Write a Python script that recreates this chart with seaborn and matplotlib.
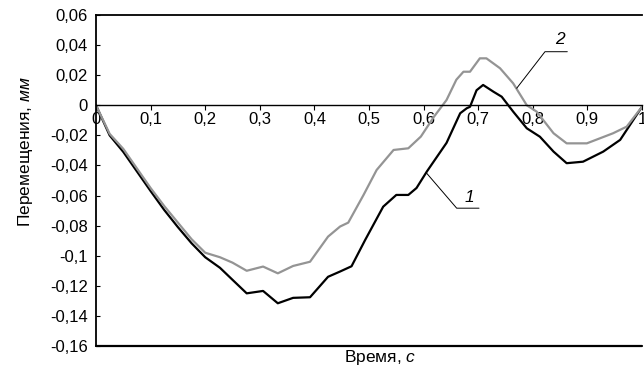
import matplotlib
matplotlib.use("Agg")
import matplotlib.pyplot as plt
import seaborn as sns
import pandas as pd
from matplotlib.ticker import FuncFormatter

# ---- data ----
t1 = [0, 0.025, 0.05, 0.075, 0.1, 0.125, 0.15, 0.175, 0.2, 0.227, 0.25, 0.276,
      0.306, 0.333, 0.361, 0.392, 0.425, 0.447, 0.468, 0.493, 0.526, 0.55, 0.572,
      0.587, 0.606, 0.642, 0.667, 0.679, 0.685, 0.697, 0.709, 0.728, 0.743, 0.764,
      0.789, 0.813, 0.838, 0.862, 0.892, 0.929, 0.96, 0.984, 1.0]
v1 = [0, -0.02, -0.031, -0.044, -0.057, -0.0696, -0.081, -0.0917, -0.101, -0.108,
      -0.116, -0.125, -0.1234, -0.1316, -0.128, -0.1276, -0.114, -0.1105, -0.107,
      -0.0895, -0.0674, -0.0596, -0.0596, -0.055, -0.044, -0.025, -0.0053, -0.002,
      -0.001, 0.010, 0.0135, 0.009, 0.0057, -0.0042, -0.0153, -0.0209, -0.0308,
      -0.0385, -0.0375, -0.0308, -0.023, -0.0098, -0.001]

t2 = [0, 0.025, 0.05, 0.075, 0.1, 0.125, 0.15, 0.175, 0.2, 0.227, 0.25, 0.276,
      0.306, 0.333, 0.361, 0.392, 0.425, 0.447, 0.462, 0.49, 0.514, 0.545, 0.572,
      0.595, 0.619, 0.642, 0.66, 0.673, 0.685, 0.703, 0.715, 0.74, 0.764, 0.789,
      0.807, 0.838, 0.862, 0.899, 0.947, 0.972, 1.0]
v2 = [0, -0.019, -0.029, -0.042, -0.055, -0.067, -0.078, -0.089, -0.098, -0.101,
      -0.1046, -0.110, -0.1072, -0.1117, -0.1068, -0.104, -0.0873, -0.0806, -0.078,
      -0.0596, -0.043, -0.0297, -0.0286, -0.0208, -0.0076, 0.0035, 0.017, 0.0223,
      0.0223, 0.0312, 0.0312, 0.0246, 0.0146, 0.0, -0.0042, -0.0186, -0.0253,
      -0.0253, -0.0186, -0.0142, -0.001]

x_ticks = [0, 0.1, 0.2, 0.3, 0.4, 0.5, 0.6, 0.7, 0.8, 0.9, 1.0]
y_ticks = [-0.16, -0.14, -0.12, -0.1, -0.08, -0.06, -0.04, -0.02, 0, 0.02, 0.04, 0.06]

curve_labels = ["1", "2"]
leader1 = ([0.6057, 0.6606, 0.7015], [-0.0452, -0.0684, -0.0684])
leader2 = ([0.7705, 0.8223, 0.8632], [0.0113, 0.0356, 0.0356])
label1_pos = (0.683, -0.0615)
label2_pos = (0.850, 0.0440)

df = pd.concat([
    pd.DataFrame({"t": t1, "v": v1, "curve": curve_labels[0]}),
    pd.DataFrame({"t": t2, "v": v2, "curve": curve_labels[1]}),
])

sns.set_theme(style="white")
plt.rcParams["font.family"] = ["Liberation Sans", "DejaVu Sans"]
plt.rcParams["mathtext.fontset"] = "custom"
plt.rcParams["mathtext.rm"] = "Liberation Sans"
plt.rcParams["mathtext.it"] = "Liberation Sans:italic"

fig = plt.figure(figsize=(6.44, 3.67), dpi=100)
ax = fig.add_axes([96 / 644, 1 - 346 / 367, 546 / 644, 331 / 367])

sns.lineplot(data=df, x="t", y="v", hue="curve", sort=False, estimator=None,
             palette={"1": "#000000", "2": "#949494"}, linewidth=1.6,
             legend=False, ax=ax)

ax.set_xlim(0, 1.0)
ax.set_ylim(-0.16, 0.06)

fmt = FuncFormatter(lambda v, p: ("%g" % round(v, 4)).replace(".", ","))
ax.set_xticks(x_ticks)
ax.set_yticks(y_ticks)
ax.xaxis.set_major_formatter(fmt)
ax.yaxis.set_major_formatter(fmt)

for s in ["left", "top", "bottom"]:
    ax.spines[s].set_visible(True)
    ax.spines[s].set_color("black")
    ax.spines[s].set_linewidth(1.3)
ax.spines["right"].set_visible(False)
ax.spines["bottom"].set_position(("data", 0))
ax.spines["bottom"].set_linewidth(1.0)
ax.axhline(-0.16, color="black", lw=1.6, clip_on=False, zorder=5)

ax.tick_params(axis="x", direction="out", length=3.5, width=0.8, pad=1,
               labelsize=12, colors="black", bottom=True)
ax.tick_params(axis="y", direction="in", length=3, width=0.8, pad=6,
               labelsize=12, colors="black", left=True)

ax.set_xlabel("")
ax.set_ylabel("")
fig.text(25.5 / 644, 1 - 152 / 367, "Перемещения, $\\mathit{мм}$", rotation=90,
         ha="center", va="center", fontsize=12.5, color="black")
fig.text(380 / 644, 1 - 362 / 367, "Время, $\\mathit{с}$", ha="center",
         va="baseline", fontsize=12.5, color="black")

ax.plot(leader1[0], leader1[1], color="black", lw=0.7, clip_on=False)
ax.plot(leader2[0], leader2[1], color="black", lw=0.7, clip_on=False)
ax.text(*label1_pos, curve_labels[0], style="italic", fontsize=12.5,
        ha="center", va="center", color="black")
ax.text(*label2_pos, curve_labels[1], style="italic", fontsize=12.5,
        ha="center", va="center", color="black")

fig.savefig("out.png", dpi=100)
